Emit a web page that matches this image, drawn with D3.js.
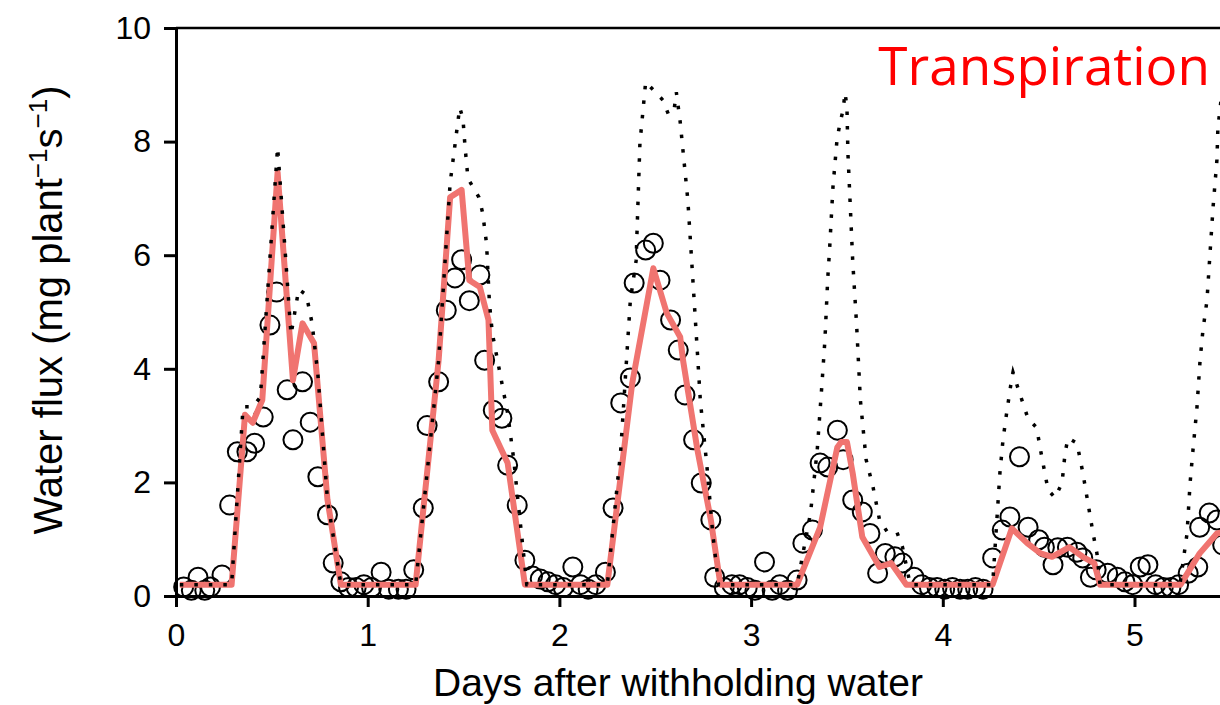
<!DOCTYPE html>
<html>
<head>
<meta charset="utf-8">
<script src="https://cdn.jsdelivr.net/npm/d3@7"></script>
<style>
  body { margin: 0; background: #fff; }
  svg { display: block; }
</style>
</head>
<body>
<script>
'use strict';

// [day, water flux]
const modelLine = [
  [0.02, 0.2], [0.29, 0.2], [0.36, 3.19], [0.40, 3.05], [0.45, 3.45], [0.53, 7.46], [0.61, 3.8],
  [0.66, 4.8], [0.72, 4.45], [0.79, 1.7], [0.86, 0.2],
  [1.25, 0.2], [1.37, 4.15], [1.43, 7.02], [1.49, 7.15], [1.53, 5.56], [1.585, 5.44], [1.63, 4.86],
  [1.65, 2.92], [1.73, 2.34], [1.82, 0.2],
  [2.25, 0.2], [2.38, 3.75], [2.49, 5.77], [2.56, 4.98], [2.63, 4.56], [2.645, 4.15], [2.72, 2.57],
  [2.79, 1.34], [2.84, 0.2],
  [3.24, 0.2], [3.36, 1.21], [3.45, 2.62], [3.47, 2.71], [3.50, 2.71], [3.53, 2.16], [3.58, 1.04],
  [3.67, 0.51], [3.73, 0.58], [3.81, 0.2],
  [4.26, 0.2], [4.36, 1.19], [4.44, 0.93], [4.51, 0.75], [4.57, 0.69], [4.66, 0.86], [4.73, 0.69],
  [4.79, 0.58], [4.82, 0.2],
  [5.24, 0.2], [5.34, 0.75], [5.43, 1.1], [5.5, 1.15]
];

const potentialLine = [
  [0.02, 0.2], [0.29, 0.2], [0.35, 3.33], [0.40, 3.33], [0.44, 3.5], [0.53, 7.9], [0.57, 6.04],
  [0.60, 4.6], [0.64, 5.4], [0.68, 5.3], [0.71, 4.8], [0.74, 3.9], [0.79, 1.7], [0.86, 0.2],
  [1.25, 0.2], [1.37, 4.15], [1.43, 7.27], [1.48, 8.6], [1.497, 8.4], [1.508, 7.9], [1.523, 7.35],
  [1.58, 7.02], [1.60, 6.74], [1.62, 6.2], [1.635, 5.16], [1.65, 4.63], [1.71, 3.57], [1.73, 3.22],
  [1.76, 2.45], [1.83, 0.2],
  [2.25, 0.2], [2.32, 2.57], [2.37, 5.2], [2.40, 5.9], [2.42, 7.97], [2.45, 9.05], [2.54, 8.73],
  [2.57, 8.47], [2.60, 8.6], [2.61, 8.87], [2.63, 8.35], [2.67, 6.97], [2.69, 5.9], [2.72, 4.28],
  [2.735, 3.45], [2.77, 2.27], [2.80, 1.1], [2.83, 0.2],
  [3.24, 0.2], [3.31, 1.46], [3.345, 2.57], [3.37, 3.75], [3.385, 4.5], [3.40, 5.6], [3.41, 6.14],
  [3.427, 7.2], [3.448, 8.03], [3.464, 8.33], [3.48, 8.56], [3.49, 8.86], [3.50, 8.61], [3.505, 7.8],
  [3.516, 6.97], [3.53, 5.9], [3.55, 4.8], [3.57, 3.45], [3.60, 2.4], [3.636, 1.92], [3.67, 1.34],
  [3.71, 1.13], [3.76, 1.13], [3.79, 0.86], [3.83, 0.2],
  [4.26, 0.2], [4.283, 1.39], [4.298, 2.17], [4.314, 2.75], [4.335, 3.27], [4.361, 3.86], [4.366, 3.94],
  [4.392, 3.66], [4.444, 3.13], [4.49, 2.96], [4.507, 2.62], [4.549, 1.87], [4.585, 1.73], [4.622, 1.99],
  [4.638, 2.52], [4.653, 2.78], [4.70, 2.69], [4.731, 2.16], [4.757, 1.64], [4.784, 1.1], [4.804, 0.75],
  [4.82, 0.2],
  [5.237, 0.2], [5.274, 1.1], [5.29, 1.99], [5.305, 2.57], [5.326, 3.33], [5.342, 4.15], [5.357, 4.68],
  [5.378, 5.2], [5.394, 6.04], [5.41, 6.85], [5.43, 7.68], [5.435, 8.24], [5.457, 8.9]
];

const measured = [
  [0.04, 0.16], [0.08, 0.1], [0.115, 0.33], [0.15, 0.1], [0.18, 0.16], [0.24, 0.37],
  [0.28, 1.6], [0.32, 2.54], [0.37, 2.54], [0.41, 2.69], [0.455, 3.15], [0.49, 4.77], [0.525, 5.35],
  [0.58, 3.63], [0.61, 2.75], [0.66, 3.77], [0.70, 3.06], [0.74, 2.1], [0.79, 1.43], [0.82, 0.58],
  [0.86, 0.25], [0.90, 0.15], [0.94, 0.15], [0.98, 0.2], [1.02, 0.15], [1.07, 0.42], [1.11, 0.12],
  [1.16, 0.12], [1.20, 0.12],
  [1.24, 0.46], [1.29, 1.55], [1.31, 3.0], [1.37, 3.77], [1.41, 5.03], [1.455, 5.6], [1.49, 5.92],
  [1.53, 5.2], [1.585, 5.65], [1.61, 4.15], [1.655, 3.27], [1.70, 3.13], [1.73, 2.3], [1.78, 1.6],
  [1.82, 0.63],
  [1.86, 0.35], [1.90, 0.3], [1.94, 0.25], [1.98, 0.2], [2.02, 0.15], [2.07, 0.51], [2.11, 0.2],
  [2.15, 0.12], [2.19, 0.2],
  [2.24, 0.42], [2.28, 1.55], [2.32, 3.4], [2.37, 3.84], [2.39, 5.51], [2.45, 6.09], [2.49, 6.21],
  [2.525, 5.56], [2.58, 4.86], [2.62, 4.33], [2.655, 3.54], [2.70, 2.75], [2.74, 1.99], [2.79, 1.34],
  [2.81, 0.33],
  [2.86, 0.15], [2.90, 0.2], [2.94, 0.2], [2.98, 0.15], [3.02, 0.1], [3.07, 0.6], [3.11, 0.1],
  [3.15, 0.2], [3.19, 0.1],
  [3.24, 0.28], [3.27, 0.93], [3.32, 1.16], [3.36, 2.34], [3.40, 2.27], [3.45, 2.92], [3.48, 2.4],
  [3.53, 1.69], [3.58, 1.48], [3.62, 1.1], [3.66, 0.4], [3.70, 0.75], [3.75, 0.69], [3.79, 0.58],
  [3.85, 0.33],
  [3.89, 0.2], [3.93, 0.15], [3.97, 0.15], [4.01, 0.12], [4.05, 0.15], [4.09, 0.12], [4.13, 0.12],
  [4.17, 0.15], [4.21, 0.12],
  [4.26, 0.67], [4.31, 1.16], [4.35, 1.39], [4.40, 2.45], [4.445, 1.21], [4.50, 0.99], [4.53, 0.86],
  [4.575, 0.55], [4.60, 0.85], [4.65, 0.86], [4.70, 0.77], [4.73, 0.67], [4.77, 0.33], [4.80, 0.46],
  [4.86, 0.4], [4.91, 0.33], [4.95, 0.25], [4.99, 0.2], [5.03, 0.51], [5.07, 0.55], [5.11, 0.2],
  [5.15, 0.15], [5.19, 0.15], [5.23, 0.2],
  [5.28, 0.4], [5.33, 0.51], [5.34, 1.21], [5.39, 1.46], [5.43, 1.34], [5.46, 0.9]
];

const xTicks = [0, 1, 2, 3, 4, 5];
const yTicks = [0, 2, 4, 6, 8, 10];

const width = 1220, height = 705;
const x0 = 176, dayPx = 191.7;

let svg = d3.select("body")
  .append("svg")
  .attr("width", width)
  .attr("height", height)
  .style("background-color", "white");

let x = d3.scaleLinear().domain([0, 6]).range([x0, x0 + 6 * dayPx]);
let y = d3.scaleLinear().domain([0, 10]).range([596, 28]);

const font = "'Liberation Sans', Arial, sans-serif";

// frame top line
svg.append("line")
  .attr("x1", x0).attr("x2", width)
  .attr("y1", y(10)).attr("y2", y(10))
  .attr("stroke", "#000").attr("stroke-width", 2.5);

// measured points
svg.append("g")
  .selectAll("circle")
  .data(measured)
  .enter().append("circle")
  .attr("cx", d => x(d[0]))
  .attr("cy", d => y(d[1]))
  .attr("r", 9.5)
  .attr("fill", "none")
  .attr("stroke", "#000")
  .attr("stroke-width", 2);

let line = d3.line().x(d => x(d[0])).y(d => y(d[1]));

svg.append("path")
  .datum(modelLine)
  .attr("d", line)
  .attr("fill", "none")
  .attr("stroke", "#F07470")
  .attr("stroke-width", 6)
  .attr("stroke-linejoin", "round");

svg.append("path")
  .datum(potentialLine)
  .attr("d", line)
  .attr("fill", "none")
  .attr("stroke", "#000")
  .attr("stroke-width", 3.5)
  .attr("stroke-dasharray", "3.5 11");

// axes
let yAxis = svg.append("g")
  .attr("transform", "translate(" + x0 + ",0)")
  .call(d3.axisLeft(y).tickValues(yTicks).tickSize(12).tickSizeOuter(0).tickPadding(13));

let xAxis = svg.append("g")
  .attr("transform", "translate(0," + y(0) + ")")
  .call(d3.axisBottom(x).tickValues(xTicks).tickSize(11).tickSizeOuter(0).tickPadding(16)
    .tickFormat(d3.format("d")));

[xAxis, yAxis].forEach(g => {
  g.select(".domain").attr("stroke-width", 3);
  g.selectAll(".tick line").attr("stroke-width", 3);
  g.selectAll("text")
    .attr("font-family", font)
    .attr("font-size", 32)
    .attr("fill", "#000");
});

// axis titles
svg.append("text")
  .attr("x", 678)
  .attr("y", 696)
  .attr("text-anchor", "middle")
  .attr("font-family", font)
  .attr("font-size", 39)
  .text("Days after withholding water");

let yTitle = svg.append("text")
  .attr("transform", "translate(62,310) rotate(-90)")
  .attr("text-anchor", "middle")
  .attr("font-family", font)
  .attr("font-size", 40);
yTitle.append("tspan").text("Water flux (mg plant");
yTitle.append("tspan").attr("dy", -15).attr("font-size", 26).text("\u22121");
yTitle.append("tspan").attr("dy", 15).text("s");
yTitle.append("tspan").attr("dy", -15).attr("font-size", 26).text("\u22121");
yTitle.append("tspan").attr("dy", 15).text(")");

svg.append("text")
  .attr("x", 1210)
  .attr("y", 85)
  .attr("text-anchor", "end")
  .attr("font-family", "'Open Sans', 'Noto Sans', sans-serif")
  .attr("font-size", 53)
  .attr("fill", "#FF0000")
  .text("Transpiration");
</script>
</body>
</html>
